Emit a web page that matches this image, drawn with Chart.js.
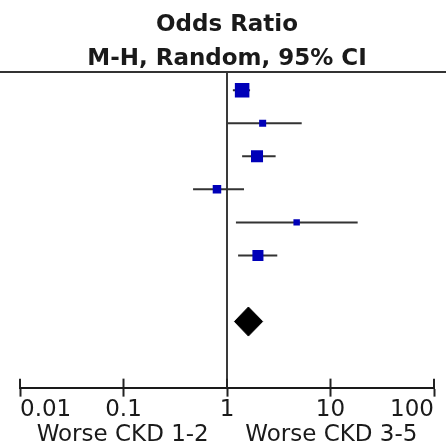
<!DOCTYPE html>
<html>
<head>
<meta charset="utf-8">
<script src="https://cdn.jsdelivr.net/npm/chart.js@4/dist/chart.umd.min.js"></script>
<style>
  html, body { margin: 0; padding: 0; background: #ffffff; }
  #wrap { width: 446px; height: 446px; position: relative; }
</style>
</head>
<body>
<div id="wrap"><canvas id="c"></canvas></div>
<script>
// ---- data ----
const rowPositions = [0, 1, 2, 3, 4, 5];
const oddsRatio = [1.40, 2.21, 1.95, 0.80, 4.71, 1.99];
const ciLower   = [1.14, 1.01, 1.40, 0.47, 1.22, 1.28];
const ciUpper   = [1.67, 5.27, 2.95, 1.46, 18.3, 3.06];
const weights   = [32.9, 7.7, 22.6, 11.3, 6.5, 19.0];   // study weight (%)
const pooledRow = 7;
const pooledOR  = 1.61;
const pooledLow = 1.18;
const pooledHigh = 2.21;
const nullValue = 1;
const tickValues = [0.01, 0.1, 1, 10, 100];
const tickLabels = ['0.01', '0.1', '1', '10', '100'];
const titleLines = ['Odds Ratio', 'M-H, Random, 95% CI'];
const axisTitle = 'Worse CKD 1-2     Worse CKD 3-5';

// ---- styling ----
const FONT = 'DejaVu Sans';
const TEXT = '#1a1a1a';
const BLUE = '#0000b8';
const Y_MIN = -0.55, Y_MAX = 9;
const DIAMOND_HALF = 0.44;

const datasets = [];

// study squares (drawn on top)
datasets.push({
  label: 'studies',
  data: rowPositions.map((r, i) => ({ x: oddsRatio[i], y: r })),
  pointStyle: 'rect',
  pointRadius: ctx => 1.79 * Math.sqrt(weights[ctx.dataIndex]),
  pointBackgroundColor: BLUE,
  pointBorderColor: BLUE,
  pointBorderWidth: 0,
  showLine: false
});

// pooled diamond
datasets.push({
  label: 'pooled',
  data: [
    { x: pooledLow, y: pooledRow },
    { x: pooledOR, y: pooledRow - DIAMOND_HALF },
    { x: pooledHigh, y: pooledRow },
    { x: pooledOR, y: pooledRow + DIAMOND_HALF },
    { x: pooledLow, y: pooledRow }
  ],
  showLine: true,
  fill: 'shape',
  backgroundColor: '#000000',
  borderColor: '#000000',
  borderWidth: 1,
  pointRadius: 0,
  tension: 0
});

// confidence intervals
rowPositions.forEach((r, i) => {
  datasets.push({
    label: 'ci' + i,
    data: [{ x: ciLower[i], y: r }, { x: ciUpper[i], y: r }],
    showLine: true,
    borderColor: '#333333',
    borderWidth: 2,
    pointRadius: 0,
    fill: false
  });
});

// line of no effect
datasets.push({
  label: 'null',
  data: [{ x: nullValue, y: Y_MIN }, { x: nullValue, y: Y_MAX }],
  showLine: true,
  borderColor: '#3a3a3a',
  borderWidth: 2,
  pointRadius: 0,
  fill: false
});

const decor = {
  id: 'decor',
  afterDraw(chart) {
    const { ctx, chartArea, scales } = chart;
    const x = scales.x;
    ctx.save();
    ctx.strokeStyle = '#333333';
    ctx.lineWidth = 2;
    ctx.beginPath();
    ctx.moveTo(0, chartArea.top);
    ctx.lineTo(chart.width, chartArea.top);
    ctx.stroke();
    ctx.strokeStyle = '#222222';
    x.ticks.forEach(t => {
      const px = x.getPixelForValue(t.value);
      ctx.beginPath();
      ctx.moveTo(px, chartArea.bottom - 9);
      ctx.lineTo(px, chartArea.bottom);
      ctx.stroke();
    });
    ctx.restore();
  }
};

new Chart(document.getElementById('c'), {
  type: 'scatter',
  data: { datasets },
  options: {
    responsive: true,
    maintainAspectRatio: false,
    animation: false,
    layout: { padding: { left: 20, right: 12, top: 0, bottom: 0 } },
    plugins: {
      legend: { display: false },
      tooltip: { enabled: false },
      title: {
        display: true,
        text: titleLines,
        color: TEXT,
        font: { family: FONT, size: 23, weight: 'bold', lineHeight: 34 / 23 },
        padding: { top: 8, bottom: -4 }
      }
    },
    scales: {
      x: {
        type: 'logarithmic',
        position: 'bottom',
        min: 0.01,
        max: 100,
        afterBuildTicks: s => { s.ticks = tickValues.map(v => ({ value: v })); },
        ticks: {
          autoSkip: false,
          maxRotation: 0,
          align: 'inner',
          padding: 0,
          color: TEXT,
          font: { family: FONT, size: 23, lineHeight: 1.19 },
          callback: (v, i) => tickLabels[i]
        },
        grid: {
          drawOnChartArea: false,
          drawTicks: true,
          tickLength: 9,
          tickWidth: 2,
          tickColor: '#222222'
        },
        border: { display: true, color: '#1a1a1a', width: 2 },
        title: {
          display: true,
          text: axisTitle,
          color: TEXT,
          font: { family: FONT, size: 23, lineHeight: 22 / 23 },
          padding: { top: 0, bottom: 0 }
        }
      },
      y: {
        type: 'linear',
        display: false,
        reverse: true,
        min: Y_MIN,
        max: Y_MAX
      }
    }
  },
  plugins: [decor]
});
</script>
</body>
</html>
